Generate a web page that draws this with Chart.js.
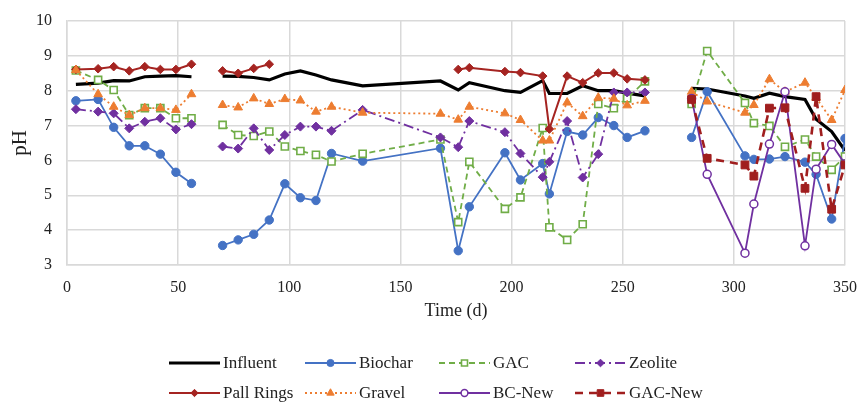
<!DOCTYPE html>
<html><head><meta charset="utf-8">
<script src="https://cdn.jsdelivr.net/npm/chart.js@4/dist/chart.umd.min.js"></script>
<style>
html,body{margin:0;padding:0;background:#fff;}
#wrap{position:relative;width:859px;height:402px;}
#legend{position:absolute;left:0;top:0;width:859px;height:402px;pointer-events:none;font-family:"Liberation Serif","Times New Roman",serif;font-size:17px;color:#222;}
.item{position:absolute;height:20px;display:flex;align-items:center;}
.item canvas{display:block;}
.item span{margin-left:3px;white-space:nowrap;line-height:20px;}
</style></head><body>
<div id="wrap"><canvas id="c" width="859" height="402"></canvas><div id="legend"></div></div>
<script>
// Sampling days (d); a new sampling period starts at index 8 and 30
const days = [4,14,21,28,35,42,49,56,
  70,77,84,91,98,105,112,119,133,168,176,181,197,204,214,217,225,232,239,246,252,260,
  281,288,305,309,316,323,332,337,344,350];
const periodStarts = [8, 30];

const influent = [8.18,8.22,8.29,8.28,8.40,8.42,8.43,8.40,
  8.42,8.41,8.38,8.31,8.48,8.57,8.45,8.31,8.14,8.28,8.02,8.23,8.00,7.95,8.29,7.92,7.92,8.14,8.00,8.00,7.93,7.85,
  8.07,8.05,7.85,7.78,7.93,7.83,7.75,7.18,6.83,6.28];
const biochar = [7.71,7.75,6.95,6.42,6.42,6.18,5.66,5.34,
  3.56,3.72,3.88,4.29,5.33,4.93,4.85,6.20,5.98,6.35,3.41,4.67,6.22,5.44,5.91,5.04,6.83,6.73,7.23,7.00,6.66,6.85,
  6.66,7.97,6.13,6.03,6.04,6.11,5.95,5.60,4.32,6.63];
const gac = [8.58,8.31,8.02,7.30,7.50,7.50,7.21,7.21,
  7.02,6.73,6.70,6.83,6.40,6.27,6.16,5.97,6.19,6.60,4.23,5.96,4.61,4.94,6.93,4.08,3.72,4.17,7.62,7.50,7.78,8.27,
  7.62,9.14,7.65,7.07,6.99,6.39,6.60,6.11,5.73,6.11];
const zeolite = [7.47,7.40,7.35,6.92,7.11,7.21,6.89,7.04,
  6.40,6.34,6.92,6.30,6.73,6.97,6.97,6.85,7.45,6.66,6.38,7.13,6.81,6.20,5.52,5.96,7.13,5.51,6.18,7.95,7.95,7.95,
  null,null,null,null,null,null,null,null,null,null];
const pallRings = [8.61,8.63,8.69,8.57,8.69,8.61,8.61,8.76,
  8.57,8.50,8.64,8.76,null,null,null,null,null,null,8.61,8.66,8.55,8.52,8.42,6.90,8.42,8.23,8.51,8.51,8.34,8.31,
  null,null,null,null,null,null,null,null,null,null];
const gravel = [8.59,7.90,7.54,7.30,7.50,7.50,7.45,7.90,
  7.59,7.52,7.78,7.62,7.76,7.72,7.40,7.54,7.37,7.34,7.17,7.54,7.35,7.16,6.57,6.57,7.66,7.27,7.80,7.77,7.58,7.71,
  7.97,7.69,7.37,7.59,8.33,7.97,8.23,7.80,7.16,8.02];
const bcNew = [null,null,null,null,null,null,null,null,
  null,null,null,null,null,null,null,null,null,null,null,null,null,null,null,null,null,null,null,null,null,null,
  7.78,5.60,3.34,4.75,6.47,7.97,3.55,5.75,6.46,5.90];
const gacNew = [null,null,null,null,null,null,null,null,
  null,null,null,null,null,null,null,null,null,null,null,null,null,null,null,null,null,null,null,null,null,null,
  7.75,6.06,5.87,5.55,7.50,7.51,5.20,7.83,4.60,5.87];

const seriesNames = ["Influent","Biochar","GAC","Zeolite","Pall Rings","Gravel","BC-New","GAC-New"];
const seriesValues = [influent,biochar,gac,zeolite,pallRings,gravel,bcNew,gacNew];
const xTicks = {min:0, max:350, step:50};
const yTicks = {min:3, max:10, step:1};

const styles = [
  {color:'#000000', width:3.2, dash:[], point:false},
  {color:'#4472C4', width:1.8, dash:[], point:'circle', r:4.2, fill:'#4472C4'},
  {color:'#70AD47', width:1.8, dash:[6,4], point:'rect', r:5, fill:'#ffffff', pbw:1.6},
  {color:'#7030A0', width:1.8, dash:[10,4,2,4], point:'rectRot', r:4.5, fill:'#7030A0'},
  {color:'#A52421', width:2, dash:[], point:'rectRot', r:4.3, fill:'#A52421'},
  {color:'#ED7D31', width:1.8, dash:[2,3], point:'triangle', r:5, fill:'#ED7D31'},
  {color:'#7030A0', width:1.8, dash:[], point:'circle', r:4, fill:'#ffffff', pbw:1.5},
  {color:'#A01E1E', width:2.6, dash:[8,6], point:'rect', r:5.5, fill:'#A01E1E'}
];

function toPoints(vals){
  const pts = [];
  days.forEach((d,i)=>{
    if (periodStarts.includes(i)) pts.push({x:d, y:null});
    pts.push({x:d, y:vals[i]});
  });
  return pts;
}

const datasets = seriesNames.map((name,i)=>{
  const s = styles[i];
  return {
    label: name,
    data: toPoints(seriesValues[i]),
    borderColor: s.color,
    backgroundColor: s.color,
    borderWidth: s.width,
    borderDash: s.dash,
    tension: 0,
    spanGaps: false,
    pointStyle: s.point || 'circle',
    pointRadius: s.point ? s.r : 0,
    pointHoverRadius: s.point ? s.r : 0,
    pointBackgroundColor: s.fill || s.color,
    pointBorderColor: s.color,
    pointBorderWidth: s.pbw || 1,
    order: seriesNames.length - i
  };
});

const serif = "'Liberation Serif','Times New Roman',serif";
const gridColor = '#D9D9D9';

new Chart(document.getElementById('c'), {
  type: 'line',
  data: {datasets},
  options: {
    responsive: false,
    devicePixelRatio: 1,
    animation: false,
    layout: {padding: {left:0, top:21, right:14, bottom:77}},
    plugins: {legend: {display:false}, tooltip: {enabled:false}},
    scales: {
      x: {
        type: 'linear', min: xTicks.min, max: xTicks.max,
        ticks: {stepSize: xTicks.step, color:'#222', font:{family:serif, size:16}, padding:13, maxRotation:0},
        grid: {color: gridColor, lineWidth: 1.5, drawTicks:false},
        border: {color: gridColor, width: 1.5},
        title: {display:true, text:'Time (d)', color:'#222', font:{family:serif, size:18}, padding:{top:0, bottom:3}},
        afterFit: s => { s.height = 60; s.paddingLeft = 0; s.paddingRight = 0; }
      },
      y: {
        type: 'linear', min: yTicks.min, max: yTicks.max,
        ticks: {stepSize: yTicks.step, color:'#222', font:{family:serif, size:16}, padding:15},
        grid: {color: gridColor, lineWidth: 1.5, drawTicks:false},
        border: {color: gridColor, width: 1.5},
        title: {display:true, text:'pH', color:'#222', font:{family:serif, size:21}, padding:{top:8, bottom:0}},
        afterFit: s => { s.width = 67; s.paddingTop = 0; s.paddingBottom = 0; }
      }
    }
  }
});

// HTML legend (2 rows x 4 columns)
function drawMarker(ctx, style, r, x, y, fill, stroke, bw){
  ctx.beginPath();
  if (style === 'circle') ctx.arc(x, y, r, 0, Math.PI*2);
  else if (style === 'rect') { const h = r*Math.SQRT1_2; ctx.rect(x-h, y-h, 2*h, 2*h); }
  else if (style === 'rectRot') { ctx.moveTo(x, y-r); ctx.lineTo(x+r, y); ctx.lineTo(x, y+r); ctx.lineTo(x-r, y); ctx.closePath(); }
  else if (style === 'triangle') { ctx.moveTo(x, y-r); ctx.lineTo(x+r*0.866, y+r*0.5); ctx.lineTo(x-r*0.866, y+r*0.5); ctx.closePath(); }
  ctx.setLineDash([]);
  ctx.fillStyle = fill; ctx.fill();
  ctx.lineWidth = bw; ctx.strokeStyle = stroke; ctx.stroke();
}
const legendCols = [169, 305, 439, 575];
const legendRows = [362.7, 392.7];
const legend = document.getElementById('legend');
seriesNames.forEach((name,i)=>{
  const s = styles[i];
  const col = i % 4, row = Math.floor(i / 4);
  const item = document.createElement('div');
  item.className = 'item';
  item.style.left = legendCols[col] + 'px';
  item.style.top = (legendRows[row] - 10) + 'px';
  const cv = document.createElement('canvas');
  cv.width = 51; cv.height = 16;
  const ctx = cv.getContext('2d');
  ctx.strokeStyle = s.color; ctx.lineWidth = s.width; ctx.setLineDash(s.dash);
  ctx.beginPath(); ctx.moveTo(0, 8); ctx.lineTo(51, 8); ctx.stroke();
  if (s.point) drawMarker(ctx, s.point, s.r*0.85, 25.5, 8, s.fill || s.color, s.color, s.pbw || 1);
  const sp = document.createElement('span');
  sp.textContent = name;
  item.appendChild(cv); item.appendChild(sp);
  legend.appendChild(item);
});
</script>
</body></html>
